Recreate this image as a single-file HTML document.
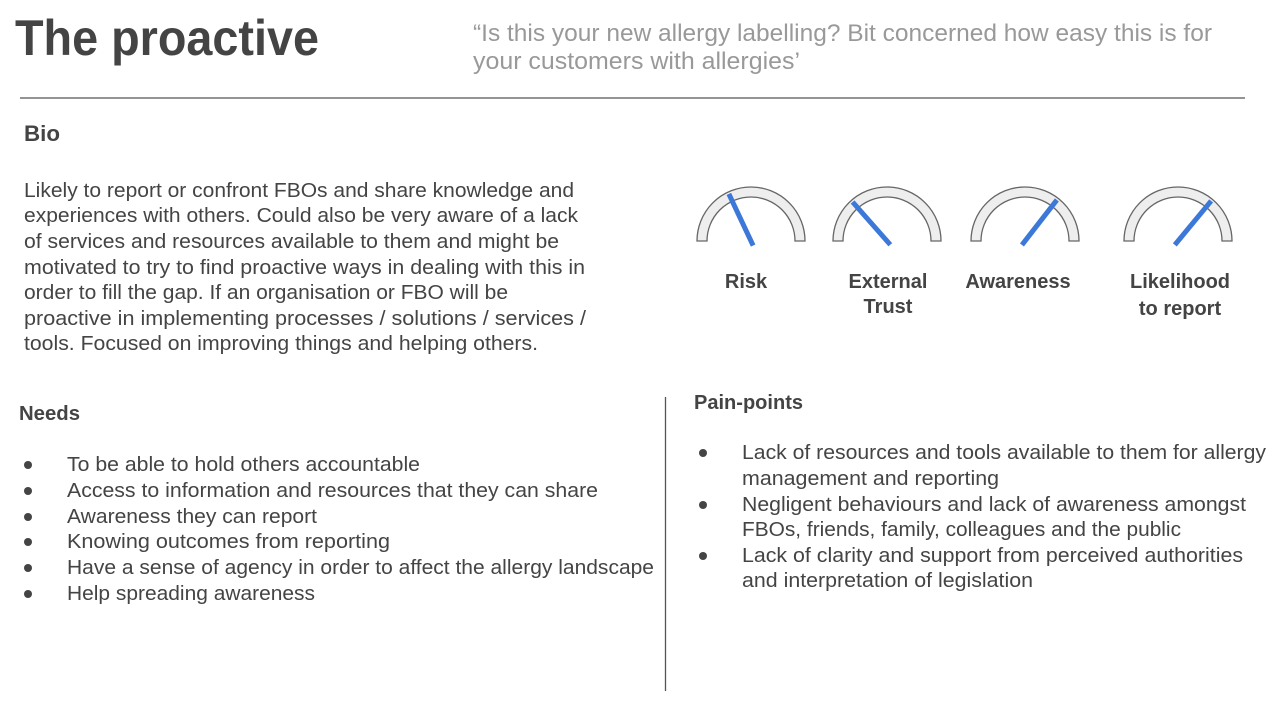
<!DOCTYPE html>
<html><head><meta charset="utf-8"><style>
html,body{margin:0;padding:0;background:#fff;}
svg{display:block;font-family:"Liberation Sans",sans-serif;}
</style></head><body>
<svg id="page" width="1278" height="713" viewBox="0 0 1278 713" xmlns="http://www.w3.org/2000/svg">
<rect width="1278" height="713" fill="#fff"/>
<text x="15" y="55" font-size="50" font-weight="bold" fill="#444" textLength="304" lengthAdjust="spacingAndGlyphs">The proactive</text>
<g fill="#999" font-size="24">
<text x="473" y="41" textLength="739" lengthAdjust="spacingAndGlyphs">“Is this your new allergy labelling? Bit concerned how easy this is for</text>
<text x="473" y="69" textLength="327" lengthAdjust="spacingAndGlyphs">your customers with allergies’</text>
</g>
<line x1="20" y1="98" x2="1245" y2="98" stroke="#555" stroke-width="1.3"/>
<text x="24" y="141" font-size="22" font-weight="bold" fill="#444" textLength="36" lengthAdjust="spacingAndGlyphs">Bio</text>
<g fill="#444" font-size="20">
<text x="24" y="197" textLength="550" lengthAdjust="spacingAndGlyphs">Likely to report or confront FBOs and share knowledge and</text>
<text x="24" y="222" textLength="554" lengthAdjust="spacingAndGlyphs">experiences with others. Could also be very aware of a lack</text>
<text x="24" y="248" textLength="535" lengthAdjust="spacingAndGlyphs">of services and resources available to them and might be</text>
<text x="24" y="274" textLength="561" lengthAdjust="spacingAndGlyphs">motivated to try to find proactive ways in dealing with this in</text>
<text x="24" y="299" textLength="484" lengthAdjust="spacingAndGlyphs">order to fill the gap. If an organisation or FBO will be</text>
<text x="24" y="325" textLength="562" lengthAdjust="spacingAndGlyphs">proactive in implementing processes / solutions / services /</text>
<text x="24" y="350" textLength="514" lengthAdjust="spacingAndGlyphs">tools. Focused on improving things and helping others.</text>
</g>
<g id="gauges"></g>
<g fill="#444" font-size="20" font-weight="bold" text-anchor="middle">
<text x="746" y="288">Risk</text>
<text x="888" y="288">External</text>
<text x="888" y="313">Trust</text>
<text x="1018" y="288">Awareness</text>
<text x="1180" y="288">Likelihood</text>
<text x="1180" y="315">to report</text>
</g>
<text x="19" y="420" font-size="20" font-weight="bold" fill="#444" textLength="61" lengthAdjust="spacingAndGlyphs">Needs</text>
<g fill="#444" font-size="20">
<circle cx="28" cy="465" r="4"/><text x="67" y="471" textLength="353" lengthAdjust="spacingAndGlyphs">To be able to hold others accountable</text>
<circle cx="28" cy="491" r="4"/><text x="67" y="497" textLength="531" lengthAdjust="spacingAndGlyphs">Access to information and resources that they can share</text>
<circle cx="28" cy="517" r="4"/><text x="67" y="523" textLength="250" lengthAdjust="spacingAndGlyphs">Awareness they can report</text>
<circle cx="28" cy="542" r="4"/><text x="67" y="548" textLength="323" lengthAdjust="spacingAndGlyphs">Knowing outcomes from reporting</text>
<circle cx="28" cy="568" r="4"/><text x="67" y="574" textLength="587" lengthAdjust="spacingAndGlyphs">Have a sense of agency in order to affect the allergy landscape</text>
<circle cx="28" cy="594" r="4"/><text x="67" y="600" textLength="248" lengthAdjust="spacingAndGlyphs">Help spreading awareness</text>
</g>
<line x1="665.5" y1="397" x2="665.5" y2="691" stroke="#555" stroke-width="1.3"/>
<text x="694" y="409" font-size="20" font-weight="bold" fill="#444" textLength="109" lengthAdjust="spacingAndGlyphs">Pain-points</text>
<g fill="#444" font-size="20">
<circle cx="703" cy="453" r="4"/><text x="742" y="459" textLength="524" lengthAdjust="spacingAndGlyphs">Lack of resources and tools available to them for allergy</text>
<text x="742" y="485" textLength="257" lengthAdjust="spacingAndGlyphs">management and reporting</text>
<circle cx="703" cy="505" r="4"/><text x="742" y="511" textLength="504" lengthAdjust="spacingAndGlyphs">Negligent behaviours and lack of awareness amongst</text>
<text x="742" y="536" textLength="439" lengthAdjust="spacingAndGlyphs">FBOs, friends, family, colleagues and the public</text>
<circle cx="703" cy="556" r="4"/><text x="742" y="562" textLength="501" lengthAdjust="spacingAndGlyphs">Lack of clarity and support from perceived authorities</text>
<text x="742" y="587" textLength="291" lengthAdjust="spacingAndGlyphs">and interpretation of legislation</text>
</g>
</svg>
<script>
const gaugeNames = ["Risk", "External Trust", "Awareness", "Likelihood to report"];
const gaugeValues = [36, 27, 71, 72]; // 0 = far left, 100 = far right
const gaugeCenters = [751, 887, 1025, 1178];
const NS = "http://www.w3.org/2000/svg";
const g = document.getElementById("gauges");
const baseY = 241, rOut = 54, rIn = 44;
function valToAngle(v){ return Math.PI * (1 - v / 100); }
gaugeValues.forEach(function(v, i){
  const cx = gaugeCenters[i];
  const p = document.createElementNS(NS, "path");
  
  
  p.setAttribute("d", "M" + (cx - rOut) + " " + baseY + " A" + rOut + " " + rOut + " 0 0 1 " + (cx + rOut) + " " + baseY +
    " L" + (cx + rIn) + " " + baseY + " A" + rIn + " " + rIn + " 0 0 0 " + (cx - rIn) + " " + baseY + " Z");
  p.setAttribute("fill", "#eeeeee");
  p.setAttribute("stroke", "#666");
  p.setAttribute("stroke-width", "1.3");
  g.appendChild(p);
  const a = valToAngle(v);
  const l = document.createElementNS(NS, "line");
  
  
  l.setAttribute("x1", cx - 5 * Math.cos(a));
  l.setAttribute("y1", baseY + 5 * Math.sin(a));
  l.setAttribute("x2", cx + 52 * Math.cos(a));
  l.setAttribute("y2", baseY - 52 * Math.sin(a));
  l.setAttribute("stroke", "#3c78d8");
  l.setAttribute("stroke-width", "5");
  g.appendChild(l);
});
</script>
</body></html>
